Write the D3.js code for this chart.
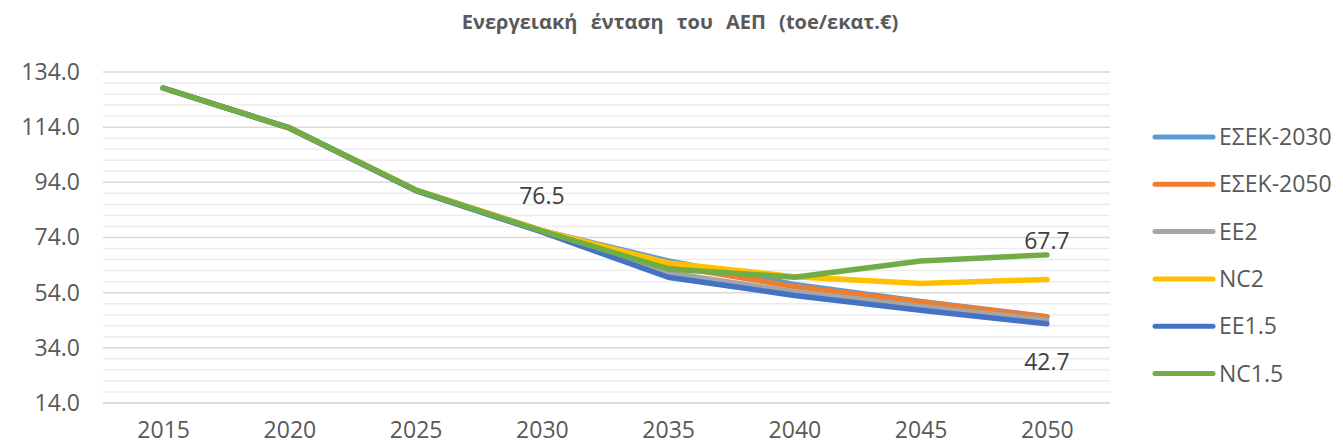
<!DOCTYPE html>
<html>
<head>
<meta charset="utf-8">
<script src="https://cdn.jsdelivr.net/npm/d3@7"></script>
<style>
  body { margin: 0; background: #fff; }
  svg { display: block; }
</style>
</head>
<body>
<div id="chart"></div>
<script>
// data
var years = ["2015", "2020", "2025", "2030", "2035", "2040", "2045", "2050"];
var seriesNames = ["ΕΣΕΚ-2030", "ΕΣΕΚ-2050", "EE2", "NC2", "EE1.5", "NC1.5"];
var seriesColors = ["#5b9bd5", "#ed7d31", "#a5a5a5", "#ffc000", "#4472c4", "#70ad47"];
var esek2030 = [128.2, 113.7, 91.2, 76.5, 65.5, 57.0, 50.8, 45.3];
var esek2050 = [128.2, 113.7, 91.2, 76.5, 63.8, 56.2, 50.6, 45.2];
var ee2      = [128.2, 113.7, 91.2, 76.3, 61.2, 54.3, 49.0, 44.0];
var nc2      = [128.2, 113.7, 91.2, 76.5, 64.8, 59.8, 57.3, 58.8];
var ee15     = [128.2, 113.7, 91.0, 76.0, 59.6, 53.0, 47.6, 42.7];
var nc15     = [128.2, 113.7, 91.2, 76.3, 62.6, 59.6, 65.5, 67.7];
var yTicks = [14, 34, 54, 74, 94, 114, 134];
var allSeries = [esek2030, esek2050, ee2, nc2, ee15, nc15];

var W = 1343, H = 448;
var svg = d3.select("#chart").append("svg")
    .attr("width", W)
    .attr("height", H);

var x = d3.scalePoint().domain(years).range([100, 1110]).padding(0.5);
var y = d3.scaleLinear().domain([14, 134]).range([403, 72]);

// title
svg.append("text")
    .attr("x", 680)
    .attr("y", 29)
    .attr("text-anchor", "middle")
    .style("font-family", "'Open Sans', sans-serif")
    .style("font-weight", "bold")
    .style("font-size", "20px")
    .style("word-spacing", "8px")
    .style("fill", "#595959")
    .text("Ενεργειακή ένταση του ΑΕΠ  (toe/εκατ.€)");

// minor gridlines, every 4
var minor = d3.range(18, 134, 4).filter(function(v){ return yTicks.indexOf(v) < 0; });
svg.append("g").selectAll("line")
    .data(minor)
  .enter().append("line")
    .attr("x1", 103).attr("x2", 1110)
    .attr("y1", function(d){ return y(d); })
    .attr("y2", function(d){ return y(d); })
    .style("stroke", "#ececec")
    .style("stroke-width", 1.5);

// major gridlines
svg.append("g").selectAll("line")
    .data(yTicks)
  .enter().append("line")
    .attr("x1", 103).attr("x2", 1110)
    .attr("y1", function(d){ return y(d); })
    .attr("y2", function(d){ return y(d); })
    .style("stroke", function(d){ return d == 14 ? "#d0d0d0" : "#d9d9d9"; })
    .style("stroke-width", 1.5);

// y axis labels
var yAxis = d3.axisLeft(y).tickValues(yTicks).tickFormat(d3.format(".1f")).tickSize(0).tickPadding(0);
var gy = svg.append("g").attr("transform", "translate(80,0)").call(yAxis);
gy.select(".domain").remove();
gy.selectAll("text")
    .attr("x", 0)
    .attr("text-anchor", "end")
    .style("font-family", "'Open Sans', sans-serif")
    .style("font-size", "23px")
    .style("fill", "#595959");

// x axis labels
var xAxis = d3.axisBottom(x).tickSize(0).tickPadding(0);
var gx = svg.append("g").attr("transform", "translate(0,422)").call(xAxis);
gx.select(".domain").remove();
gx.selectAll("text")
    .style("font-family", "'Liberation Sans Narrow', 'Open Sans', sans-serif")
    .style("font-size", "23px")
    .style("fill", "#595959");

// lines
var line = d3.line()
    .x(function(d, i){ return x(years[i]); })
    .y(function(d){ return y(d); });

svg.append("g").selectAll("path")
    .data(allSeries)
  .enter().append("path")
    .attr("d", line)
    .style("fill", "none")
    .style("stroke", function(d, i){ return seriesColors[i]; })
    .style("stroke-width", 5.5)
    .style("stroke-linecap", "round")
    .style("stroke-linejoin", "round");

// data labels
var labels = [
  {year: "2030", value: esek2030[3], dy: -27},
  {year: "2050", value: nc15[7], dy: -6},
  {year: "2050", value: ee15[7], dy: 46}
];
svg.append("g").selectAll("text")
    .data(labels)
  .enter().append("text")
    .attr("x", function(d){ return x(d.year); })
    .attr("y", function(d){ return y(d.value) + d.dy; })
    .attr("text-anchor", "middle")
    .style("font-family", "'Open Sans', sans-serif")
    .style("font-size", "23px")
    .style("fill", "#404040")
    .text(function(d){ return d3.format(".1f")(d.value); });

// legend
var legend = svg.selectAll(".legend")
    .data(seriesNames)
  .enter().append("g")
    .attr("class", "legend")
    .attr("transform", function(d, i){ return "translate(1155," + (137 + i * 47.3) + ")"; });

legend.append("line")
    .attr("x1", 0).attr("x2", 58)
    .style("stroke", function(d, i){ return seriesColors[i]; })
    .style("stroke-width", 5)
    .style("stroke-linecap", "round");

legend.append("text")
    .attr("x", 64)
    .attr("y", 0)
    .attr("dy", ".35em")
    .style("font-family", "'Open Sans', sans-serif")
    .style("font-size", "23px")
    .style("fill", "#595959")
    .text(function(d){ return d; });
</script>
</body>
</html>
